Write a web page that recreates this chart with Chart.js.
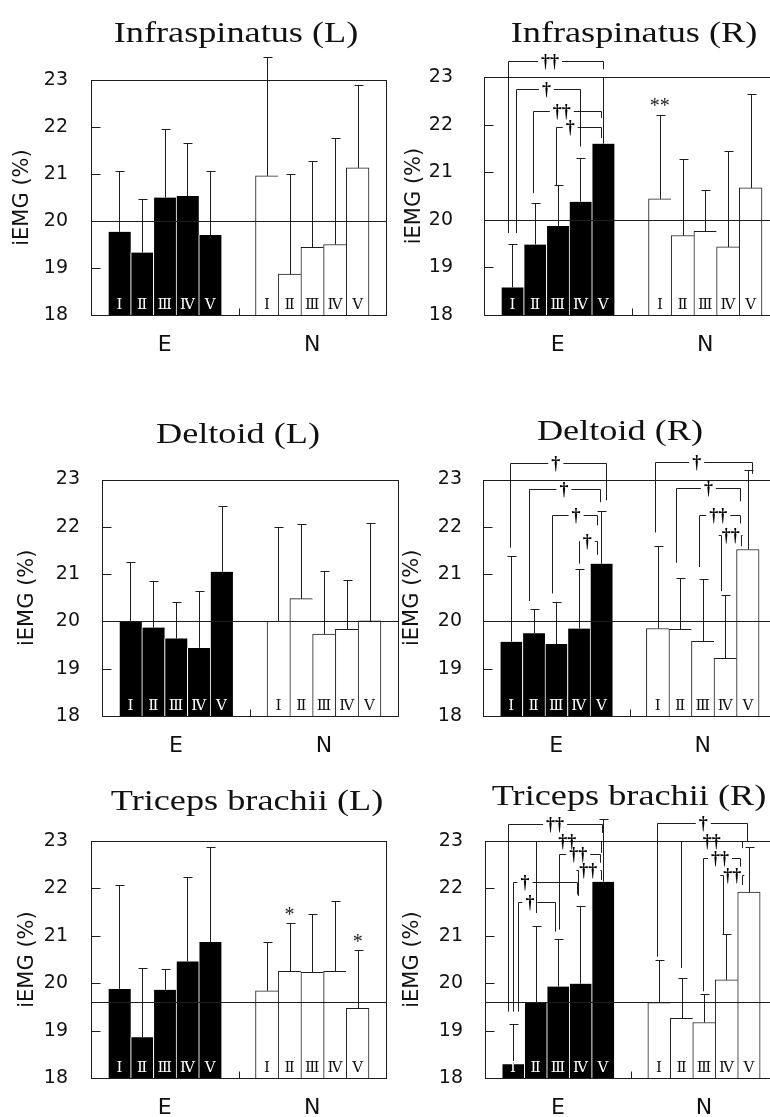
<!DOCTYPE html>
<html lang="en">
<head>
<meta charset="UTF-8">
<title>iEMG</title>
<style>
    html, body {
        margin: 0;
        padding: 0;
        background: #fff;
        width: 770px;
        height: 1117px;
        overflow: hidden;
        position: relative;
    }
    canvas { position: absolute; }
</style>
<script src="https://cdn.jsdelivr.net/npm/chart.js"></script>
</head>
<body>

<canvas id="c1" width="400" height="380" style="left:0;top:0"></canvas>
<canvas id="c2" width="400" height="380" style="left:390px;top:0"></canvas>
<canvas id="c3" width="400" height="380" style="left:0;top:380px"></canvas>
<canvas id="c4" width="400" height="380" style="left:390px;top:380px"></canvas>
<canvas id="c5" width="400" height="357" style="left:0;top:760px"></canvas>
<canvas id="c6" width="400" height="357" style="left:390px;top:760px"></canvas>

<script>
// ---- data ----
const conditions = ['E', 'N'];
const trials = ['Ⅰ', 'Ⅱ', 'Ⅲ', 'Ⅳ', 'Ⅴ'];
const yLimits = [18, 23];

// means then SD, order: E I..V, N I..V
const infL_mean = [19.77, 19.33, 20.50, 20.53, 19.70, 20.96, 18.87, 19.44, 19.50, 21.13];
const infL_sd   = [1.30, 1.13, 1.45, 1.14, 1.37, 2.52, 2.14, 1.84, 2.27, 1.76];
const infR_mean = [18.58, 19.48, 19.87, 20.38, 21.60, 20.44, 19.67, 19.76, 19.43, 20.67];
const infR_sd   = [0.91, 0.88, 0.86, 0.91, 1.41, 1.76, 1.60, 0.87, 2.01, 1.98];
const delL_mean = [20.01, 19.87, 19.64, 19.44, 21.05, 20.00, 20.48, 19.73, 19.83, 20.01];
const delL_sd   = [1.24, 0.98, 0.78, 1.20, 1.38, 2.00, 1.57, 1.33, 1.04, 2.06];
const delR_mean = [19.57, 19.75, 19.52, 19.85, 21.22, 19.85, 19.83, 19.58, 19.22, 21.52];
const delR_sd   = [1.81, 0.52, 0.88, 1.26, 1.12, 1.74, 1.09, 1.31, 1.34, 1.68];
const triL_mean = [19.88, 18.86, 19.86, 20.46, 20.87, 19.84, 20.25, 20.23, 20.25, 19.47];
const triL_sd   = [2.19, 1.47, 0.44, 1.79, 2.00, 1.02, 1.03, 1.24, 1.49, 1.22];
const triR_mean = [18.29, 19.59, 19.93, 19.99, 22.14, 19.59, 19.26, 19.17, 20.07, 21.92];
const triR_sd   = [0.85, 1.61, 1.01, 1.63, 1.32, 0.89, 0.86, 0.61, 0.96, 0.95];

// significance brackets: [x1, x2, yTop, leftEnd, rightEnd, label, labelX] (axis units)
const infR_brackets = [
    [1.04, 5.26, 23.33, 19.72, 23.16, '††', 2.91],
    [1.40, 4.23, 22.74, 19.72, 21.54, '†', 2.75],
    [2.15, 5.16, 22.28, 20.56, 22.14, '††', 3.43],
    [3.17, 5.16, 21.94, 20.73, 21.72, '†', 3.80]
];
const delR_brackets = [
    [1.20, 5.44, 23.35, 21.56, 22.56, '†', 3.23],
    [2.04, 5.19, 22.80, 20.43, 22.52, '†', 3.59],
    [3.07, 5.04, 22.24, 20.59, 22.03, '†', 4.13],
    [4.26, 5.07, 21.69, 21.22, 21.41, '†', 4.63],
    [7.63, 11.92, 23.36, 21.88, 23.12, '†', 9.48],
    [8.55, 11.40, 22.82, 21.24, 22.54, '†', 10.00],
    [9.60, 11.40, 22.26, 21.15, 22.07, '††', 10.44],
    [10.55, 11.45, 21.82, 20.64, 21.59, '††', 10.99]
];
const triR_brackets = [
    [1.01, 5.20, 23.36, 19.40, 23.17, '††', 3.12],
    [2.27, 5.16, 23.00, 21.48, 22.75, '††', 3.66],
    [3.31, 5.13, 22.72, 21.13, 22.54, '††', 4.15],
    [4.15, 5.16, 22.39, 21.84, 22.18, '††', 4.60],
    [1.26, 4.08, 22.14, 19.40, 21.87, '†', 1.78],
    [1.48, 3.12, 21.72, 19.40, 21.09, '†', 2.00],
    [7.64, 11.68, 23.37, 20.56, 23.00, '†', 9.72],
    [8.71, 11.43, 23.00, 20.32, 22.85, '††', 10.09],
    [9.72, 11.35, 22.64, 19.83, 22.46, '††', 10.46],
    [10.61, 11.46, 22.28, 21.02, 22.07, '††', 11.01]
];

// asterisks: [bar index, y, text]
const infR_marks = [[5, 22.46, '**']];
const triL_marks = [[6, 21.51, '*'], [9, 20.94, '*']];

// ---- layout ----
const XH = 40;
const panels = [
    { id: 'c1', name: 'Infraspinatus (L)', mean: infL_mean, sd: infL_sd, ref: 20, brackets: [], marks: [],
      L: 91, T: 80, R: 386, B: 315, yTitle: 68, tickPad: 23, tx: 236, ty: 42 },
    { id: 'c2', name: 'Infraspinatus (R)', mean: infR_mean, sd: infR_sd, ref: 20, brackets: infR_brackets, marks: infR_marks,
      L: 94, T: 77, R: 389, B: 315, yTitle: 69, tickPad: 31, tx: 244, ty: 42 },
    { id: 'c3', name: 'Deltoid (L)', mean: delL_mean, sd: delL_sd, ref: 20, brackets: [], marks: [],
      L: 102, T: 99.5, R: 398, B: 336, yTitle: 74, tickPad: 22, tx: 238, ty: 63 },
    { id: 'c4', name: 'Deltoid (R)', mean: delR_mean, sd: delR_sd, ref: 20, brackets: delR_brackets, marks: [],
      L: 93, T: 99.5, R: 386, B: 336, yTitle: 70, tickPad: 21, tx: 230, ty: 60 },
    { id: 'c5', name: 'Triceps brachii (L)', mean: triL_mean, sd: triL_sd, ref: 19.6, brackets: [], marks: triL_marks,
      L: 91, T: 81, R: 386, B: 318, yTitle: 63.5, tickPad: 23, tx: 247, ty: 50 },
    { id: 'c6', name: 'Triceps brachii (R)', mean: triR_mean, sd: triR_sd, ref: 19.6, brackets: triR_brackets, marks: [],
      L: 95, T: 81, R: 387, B: 318, yTitle: 72.5, tickPad: 22, tx: 239, ty: 45 }
];

// bar i sits in slot units: E group then a gap then N group
function slot(i) {
    return i < 5 ? 1.25 + i : 7.75 + (i - 5);
}

const LINE = '#1e1e1e';
const snap = v => Math.round(v) + 0.5;

const emgPlugin = {
    id: 'emg',
    afterDraw(chart, args, p) {
        const { ctx, chartArea: a, scales: { x, y } } = chart;
        ctx.save();
        ctx.strokeStyle = LINE;
        ctx.lineWidth = 1;
        const seg = (x1, y1, x2, y2) => {
            ctx.beginPath();
            ctx.moveTo(x1, y1);
            ctx.lineTo(x2, y2);
            ctx.stroke();
        };

        // frame
        const fl = snap(a.left), fr = snap(a.right), ft = snap(a.top), fb = snap(a.bottom);
        ctx.strokeRect(fl, ft, fr - fl, fb - ft);
        // inward ticks
        for (let v = yLimits[0] + 1; v < yLimits[1]; v++) {
            const ty = snap(y.getPixelForValue(v));
            seg(fl, ty, fl + 9, ty);
        }
        // group separator tick
        const sx = snap(x.getPixelForValue(6.5));
        seg(sx, fb, sx, fb - 7);

        // reference line
        const ry = snap(y.getPixelForValue(p.ref));
        seg(fl, ry, fr, ry);

        // error bars (upper only)
        const meta = chart.getDatasetMeta(0);
        p.mean.forEach((m, i) => {
            const bx = snap(meta.data[i].x);
            const top = y.getPixelForValue(m);
            const cap = snap(y.getPixelForValue(m + p.sd[i]));
            seg(bx, top, bx, cap);
            seg(bx - 4, cap, bx + 5, cap);
        });

        // roman numerals in bars
        ctx.font = '15px "DejaVu Serif", serif';
        ctx.textAlign = 'center';
        ctx.textBaseline = 'alphabetic';
        p.mean.forEach((m, i) => {
            ctx.fillStyle = i < 5 ? '#fff' : '#111';
            ctx.fillText(trials[i % 5], meta.data[i].x, a.bottom - 6);
        });

        // brackets
        ctx.font = 'bold 18px "Liberation Serif", serif';
        ctx.textBaseline = 'middle';
        ctx.fillStyle = '#000';
        p.brackets.forEach(b => {
            const [x1, x2, yt, e1, e2, label, lx] = b;
            const X1 = snap(x.getPixelForValue(x1)), X2 = snap(x.getPixelForValue(x2));
            const Yt = snap(y.getPixelForValue(yt));
            const LX = x.getPixelForValue(lx);
            const w = ctx.measureText(label).width;
            seg(X1, Yt, X1, y.getPixelForValue(e1));
            seg(X2, Yt, X2, y.getPixelForValue(e2));
            seg(X1, Yt, LX - w / 2 - 3, Yt);
            seg(LX + w / 2 + 3, Yt, X2, Yt);
            ctx.fillText(label, LX, Yt + 1);
        });

        // asterisks
        ctx.font = '20px "Liberation Serif", serif';
        ctx.fillStyle = '#222';
        p.marks.forEach(([i, v, t]) => {
            ctx.fillText(t, meta.data[i].x, y.getPixelForValue(v) + 4);
        });

        // panel title
        ctx.fillStyle = '#111';
        ctx.font = '29px "Liberation Serif", serif';
        ctx.textBaseline = 'alphabetic';
        ctx.translate(p.tx, p.ty);
        ctx.scale(1.25, 1);
        ctx.fillText(p.name, 0, 0);
        ctx.restore();
    }
};

function makeChart(p) {
    const el = document.getElementById(p.id);
    const YW = p.yTitle + 12.6;
    return new Chart(el, {
        type: 'bar',
        data: {
            datasets: [{
                data: p.mean.map((v, i) => ({ x: slot(i), y: v })),
                backgroundColor: p.mean.map((v, i) => i < 5 ? '#000' : '#fff'),
                borderColor: p.mean.map((v, i) => i < 5 ? '#fff' : LINE),
                borderWidth: c => c.dataIndex < 5
                    ? { left: 1, right: 0, top: 0, bottom: 0 }
                    : { left: 1, right: c.dataIndex === 9 ? 1 : 0, top: 1, bottom: 0 },
                barPercentage: 1,
                categoryPercentage: 1
            }]
        },
        options: {
            responsive: false,
            animation: false,
            events: [],
            layout: {
                padding: { left: p.L - YW, top: p.T, right: el.width - p.R, bottom: el.height - p.B - XH }
            },
            plugins: {
                legend: { display: false },
                tooltip: { enabled: false },
                emg: p
            },
            scales: {
                x: {
                    type: 'linear',
                    min: 0,
                    max: 13,
                    offset: false,
                    grid: { display: false, drawTicks: false },
                    border: { display: false },
                    afterBuildTicks: s => { s.ticks = [3.25, 9.75].map(v => ({ value: v })); },
                    afterFit: s => { s.height = XH; },
                    ticks: {
                        callback: (v, i) => conditions[i],
                        autoSkip: false,
                        maxRotation: 0,
                        padding: 17,
                        color: '#111',
                        font: { family: 'DejaVu Sans', size: 22 }
                    }
                },
                y: {
                    min: yLimits[0],
                    max: yLimits[1],
                    grid: { display: false, drawTicks: false },
                    border: { display: false },
                    afterFit: s => { s.width = YW; },
                    ticks: {
                        stepSize: 1,
                        padding: p.tickPad,
                        color: '#111',
                        font: { family: 'DejaVu Sans', size: 19 }
                    },
                    title: {
                        display: true,
                        text: 'iEMG (%)',
                        padding: 0,
                        color: '#111',
                        font: { family: 'DejaVu Sans', size: 21 }
                    }
                }
            }
        },
        plugins: [emgPlugin]
    });
}

panels.forEach(makeChart);
</script>
</body>
</html>
